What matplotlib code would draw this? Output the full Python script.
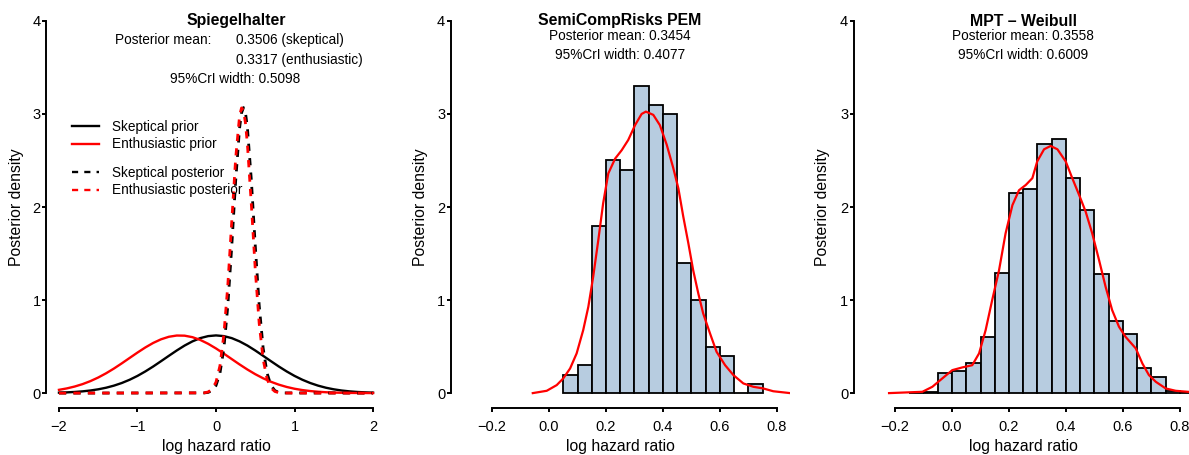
import matplotlib
matplotlib.use("Agg")
import matplotlib.pyplot as plt
from matplotlib.lines import Line2D

plt.rcParams['font.family'] = ['Liberation Sans', 'DejaVu Sans']

# ---- data ----
# Spiegelhalter panel: prior densities
prior_x = [-2.0, -1.9, -1.8, -1.7, -1.6, -1.5, -1.4, -1.3, -1.2, -1.1, -1.0,
           -0.9, -0.8, -0.7, -0.6, -0.5, -0.4, -0.3, -0.2, -0.1, 0.0,
           0.1, 0.2, 0.3, 0.4, 0.5, 0.6, 0.7, 0.8, 0.9, 1.0,
           1.1, 1.2, 1.3, 1.4, 1.5, 1.6, 1.7, 1.8, 1.9, 2.0]
prior_skeptical = [0.0049, 0.0079, 0.0123, 0.0188, 0.0280, 0.0408, 0.0579, 0.0803, 0.1086, 0.1435, 0.185,
                   0.233, 0.286, 0.343, 0.401, 0.458, 0.511, 0.556, 0.591, 0.6125, 0.620,
                   0.6125, 0.591, 0.556, 0.511, 0.458, 0.401, 0.343, 0.286, 0.233, 0.185,
                   0.1435, 0.1086, 0.0803, 0.0579, 0.0408, 0.0280, 0.0188, 0.0123, 0.0079, 0.0049]
prior_enthusiastic = [0.0352, 0.0505, 0.0707, 0.0965, 0.1288, 0.1676, 0.213, 0.264, 0.3197, 0.3778, 0.4357,
                      0.4906, 0.5391, 0.5783, 0.6055, 0.6188, 0.6173, 0.6011, 0.5713, 0.530, 0.480,
                      0.4243, 0.366, 0.3083, 0.2535, 0.2034, 0.1593, 0.1218, 0.0909, 0.0662, 0.047,
                      0.0327, 0.0221, 0.0146, 0.0094, 0.006, 0.0037, 0.0022, 0.0013, 0.0007, 0.0004]

# posterior densities (nearly identical curves)
post_x = [-2.0, -0.15, -0.10, -0.05, 0.00, 0.05, 0.10, 0.15, 0.20, 0.25, 0.30, 0.325, 0.35,
          0.375, 0.40, 0.45, 0.50, 0.55, 0.60, 0.65, 0.70, 0.75, 0.80, 0.85, 2.0]
post_skeptical = [0.0, 0.002, 0.0076, 0.0266, 0.081, 0.212, 0.479, 0.933, 1.569, 2.275, 2.845, 3.010, 3.069,
                  3.015, 2.855, 2.291, 1.586, 0.946, 0.487, 0.216, 0.083, 0.027, 0.0078, 0.002, 0.0]
post_enthusiastic = [0.0, 0.003, 0.0124, 0.0412, 0.118, 0.293, 0.627, 1.155, 1.837, 2.519, 2.979, 3.065, 3.039,
                     2.903, 2.674, 2.029, 1.328, 0.749, 0.365, 0.153, 0.0555, 0.0173, 0.0047, 0.001, 0.0]

# SemiCompRisks PEM: histogram (bin width 0.05) and density
pem_left = [0.05, 0.10, 0.15, 0.20, 0.25, 0.30, 0.35, 0.40, 0.45, 0.50, 0.55, 0.60, 0.65, 0.70]
pem_height = [0.2, 0.3, 1.8, 2.5, 2.4, 3.3, 3.1, 3.0, 1.4, 1.0, 0.5, 0.4, 0.0, 0.1]
pem_kde_x = [-0.057, -0.008, 0.027, 0.05, 0.074, 0.097, 0.12, 0.138, 0.155, 0.173, 0.19, 0.208,
             0.232, 0.255, 0.278, 0.302, 0.325, 0.34, 0.366, 0.389, 0.413, 0.436, 0.454, 0.471,
             0.489, 0.506, 0.524, 0.541, 0.565, 0.588, 0.618, 0.647, 0.682, 0.717, 0.752, 0.787, 0.846]
pem_kde_y = [0.0, 0.025, 0.086, 0.158, 0.265, 0.427, 0.677, 0.928, 1.25, 1.645, 2.04, 2.36,
             2.52, 2.61, 2.72, 2.88, 3.0, 3.025, 2.99, 2.88, 2.67, 2.42, 2.2, 1.9,
             1.61, 1.32, 1.07, 0.857, 0.642, 0.444, 0.30, 0.194, 0.104, 0.068, 0.05, 0.02, 0.0]

# MPT - Weibull
mpt_left = [-0.15, -0.10, -0.05, 0.00, 0.05, 0.10, 0.15, 0.20, 0.25, 0.30,
            0.35, 0.40, 0.45, 0.50, 0.55, 0.60, 0.65, 0.70, 0.75, 0.80]
mpt_height = [0.003, 0.008, 0.22, 0.24, 0.326, 0.606, 1.287, 2.154, 2.19, 2.68,
              2.728, 2.308, 1.968, 1.276, 0.774, 0.634, 0.265, 0.176, 0.025, 0.01]
mpt_kde_x = [-0.221, -0.104, -0.069, -0.034, 0.001, 0.036, 0.071, 0.095, 0.118, 0.141, 0.165,
             0.188, 0.212, 0.235, 0.259, 0.282, 0.299, 0.323, 0.346, 0.37, 0.399, 0.422, 0.446,
             0.469, 0.492, 0.516, 0.539, 0.562, 0.586, 0.609, 0.645, 0.668, 0.691, 0.715, 0.75,
             0.785, 0.828, 0.86]
mpt_kde_y = [0.0, 0.014, 0.068, 0.158, 0.247, 0.276, 0.30, 0.427, 0.677, 1.0, 1.32,
             1.717, 2.02, 2.18, 2.237, 2.31, 2.49, 2.62, 2.656, 2.62, 2.49, 2.31, 2.13,
             1.95, 1.717, 1.43, 1.143, 0.892, 0.713, 0.605, 0.48, 0.319, 0.194, 0.122, 0.05,
             0.025, 0.014, 0.008]

y_ticks = [0, 1, 2, 3, 4]
lhr_ticks1 = [-2, -1, 0, 1, 2]
lhr_labels1 = ['\u22122', '\u22121', '0', '1', '2']
lhr_ticks = [-0.2, 0.0, 0.2, 0.4, 0.6, 0.8]
lhr_labels = ['\u22120.2', '0.0', '0.2', '0.4', '0.6', '0.8']

# ---- layout (pixel based, figure is 1189 x 455) ----
W, H = 1189, 455
fig = plt.figure(figsize=(W / 100, H / 100), dpi=100)

BAR_COL = '#B7CCE0'
TICK_FS = 10.5
LAB_FS = 11.3
ANN_FS = 9.8
DASH = (0, (2.6, 2.6))


def add_panel(left, right):
    ax = fig.add_axes([left / W, (H - 408) / H, (right - left) / W, 402 / H])
    ax.set_ylim(-0.16, 4.16)
    for s in ['top', 'right']:
        ax.spines[s].set_visible(False)
    for s in ['left', 'bottom']:
        ax.spines[s].set_linewidth(1.4)
    ax.spines['left'].set_bounds(0, 4)
    ax.set_yticks(y_ticks)
    ax.tick_params(axis='both', direction='out', length=3.2, width=1.4, labelsize=TICK_FS)
    ax.tick_params(axis='y', pad=1)
    ax.tick_params(axis='x', pad=5.5)
    return ax


def ftext(px, py, s, **kw):
    # place text at pixel position (x from left, y baseline from top)
    fig.text(px / W, 1 - py / H, s, va='baseline', **kw)


def labels(cx, ylab_x):
    ftext(cx, 450.5, 'log hazard ratio', ha='center', fontsize=LAB_FS)
    fig.text(ylab_x / W, 1 - 207 / H, 'Posterior density', rotation=90,
             ha='center', va='center', fontsize=LAB_FS)


# panel 1: Spiegelhalter
ax1 = add_panel(46.4, 385.6)
ax1.set_xlim(-2.16, 2.16)
ax1.spines['bottom'].set_bounds(-2, 2)
ax1.set_xticks(lhr_ticks1)
ax1.set_xticklabels(lhr_labels1)
ax1.plot(prior_x, prior_skeptical, color='black', lw=1.7)
ax1.plot(prior_x, prior_enthusiastic, color='red', lw=1.7)
ax1.plot(post_x, post_skeptical, color='black', lw=2.0, linestyle=DASH)
ax1.plot(post_x, post_enthusiastic, color='red', lw=2.0, linestyle=DASH)

leg1 = ax1.legend(handles=[Line2D([], [], color='black', lw=1.7),
                           Line2D([], [], color='red', lw=1.7)],
                  labels=['Skeptical prior', 'Enthusiastic prior'],
                  loc='upper left', bbox_to_anchor=(72 / W, 1 - 120 / H),
                  bbox_transform=fig.transFigure, frameon=False, fontsize=ANN_FS,
                  handlelength=2.0, handletextpad=0.95, labelspacing=0.25,
                  borderpad=0, borderaxespad=0)
ax1.add_artist(leg1)
ax1.legend(handles=[Line2D([], [], color='black', lw=1.7, linestyle=DASH),
                    Line2D([], [], color='red', lw=1.7, linestyle=DASH)],
           labels=['Skeptical posterior', 'Enthusiastic posterior'],
           loc='upper left', bbox_to_anchor=(72 / W, 1 - 166 / H),
           bbox_transform=fig.transFigure, frameon=False, fontsize=ANN_FS,
           handlelength=2.0, handletextpad=0.95, labelspacing=0.25,
           borderpad=0, borderaxespad=0)

ftext(236, 25.3, 'Spiegelhalter', ha='center', fontsize=11.4, fontweight='bold')
ftext(115, 44.3, 'Posterior mean:', ha='left', fontsize=ANN_FS)
ftext(236, 44.3, '0.3506 (skeptical)', ha='left', fontsize=ANN_FS)
ftext(236, 64.3, '0.3317 (enthusiastic)', ha='left', fontsize=ANN_FS)
ftext(235, 82.7, '95%CrI width: 0.5098', ha='center', fontsize=ANN_FS)
labels(216, 17)

# panel 2: SemiCompRisks PEM
ax2 = add_panel(451, 789.5)
ax2.set_xlim(-0.344, 0.844)
ax2.spines['bottom'].set_bounds(-0.2, 0.8)
ax2.set_xticks(lhr_ticks)
ax2.set_xticklabels(lhr_labels)
ax2.bar(pem_left, pem_height, width=0.05, align='edge', color=BAR_COL,
        edgecolor='black', linewidth=1.3)
ax2.plot(pem_kde_x, pem_kde_y, color='red', lw=1.6)
ftext(620, 25, 'SemiCompRisks PEM', ha='center', fontsize=11.4, fontweight='bold')
ftext(620, 40, 'Posterior mean: 0.3454', ha='center', fontsize=ANN_FS)
ftext(620, 59, '95%CrI width: 0.4077', ha='center', fontsize=ANN_FS)
labels(620, 420)

# panel 3: MPT - Weibull (runs past the right edge like the original)
ax3 = add_panel(854, 1192.5)
ax3.set_xlim(-0.344, 0.844)
ax3.spines['bottom'].set_bounds(-0.2, 0.8)
ax3.set_xticks(lhr_ticks)
ax3.set_xticklabels(lhr_labels)
ax3.bar(mpt_left, mpt_height, width=0.05, align='edge', color=BAR_COL,
        edgecolor='black', linewidth=1.3)
ax3.plot(mpt_kde_x, mpt_kde_y, color='red', lw=1.6)
ftext(1023, 26, 'MPT \u2013 Weibull', ha='center', fontsize=11.4, fontweight='bold')
ftext(1023, 40, 'Posterior mean: 0.3558', ha='center', fontsize=ANN_FS)
ftext(1023, 59, '95%CrI width: 0.6009', ha='center', fontsize=ANN_FS)
labels(1023, 823)

fig.savefig('out.png', dpi=100)
